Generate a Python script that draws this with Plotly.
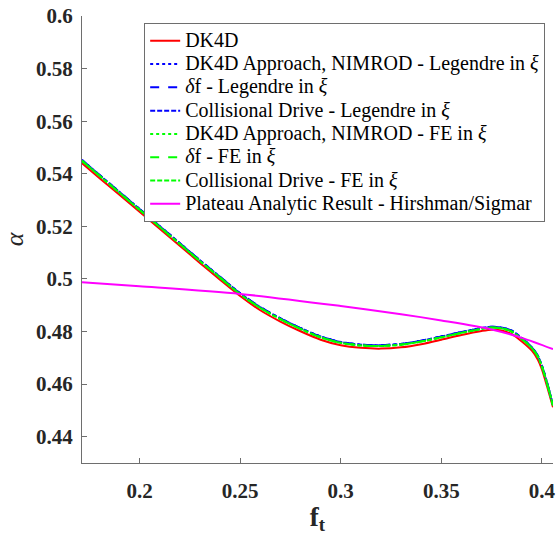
import plotly.graph_objects as go

ft = [0.1714, 0.18, 0.19, 0.20, 0.21, 0.22, 0.23, 0.24, 0.25, 0.26, 0.27, 0.28, 0.29,
      0.30, 0.31, 0.32, 0.33, 0.34, 0.35, 0.36, 0.37, 0.375, 0.38, 0.385, 0.39, 0.395,
      0.398, 0.40, 0.4025, 0.4055]

dk4d = [0.5440, 0.5384, 0.5320, 0.5256, 0.5191, 0.5126, 0.5061, 0.4997, 0.4935, 0.4881,
        0.4838, 0.4801, 0.4769, 0.4748, 0.4738, 0.4735, 0.4740, 0.4752, 0.4769, 0.4787,
        0.4802, 0.4807, 0.4804, 0.4790, 0.4762, 0.4727, 0.4693, 0.4656, 0.4593, 0.4512]

legendre = [0.5452, 0.5396, 0.5331, 0.5266, 0.5201, 0.5136, 0.5071, 0.5008, 0.4945, 0.4893,
            0.4850, 0.4813, 0.4781, 0.4760, 0.4750, 0.4748, 0.4753, 0.4765, 0.4781, 0.4798,
            0.4813, 0.4818, 0.4815, 0.4803, 0.4775, 0.4740, 0.4707, 0.4670, 0.4607, 0.4521]

fe = [0.5449, 0.5393, 0.5328, 0.5263, 0.5198, 0.5133, 0.5068, 0.5005, 0.4942, 0.4890,
      0.4847, 0.4810, 0.4778, 0.4757, 0.4747, 0.4745, 0.4750, 0.4762, 0.4778, 0.4795,
      0.4810, 0.4815, 0.4812, 0.4800, 0.4772, 0.4737, 0.4704, 0.4667, 0.4604, 0.4518]

ft_plateau = [0.1714, 0.20, 0.25, 0.30, 0.33, 0.35, 0.375, 0.39, 0.4055]
plateau = [0.4987, 0.4972, 0.4943, 0.4897, 0.4866, 0.4842, 0.4808, 0.4776, 0.4733]

x_ticks = [0.2, 0.25, 0.3, 0.35, 0.4]
x_tick_labels = ["0.2", "0.25", "0.3", "0.35", "0.4"]
y_ticks = [0.44, 0.46, 0.48, 0.5, 0.52, 0.54, 0.56, 0.58, 0.6]
y_tick_labels = ["0.44", "0.46", "0.48", "0.5", "0.52", "0.54", "0.56", "0.58", "0.6"]

names = [
    "DK4D",
    "DK4D Approach, NIMROD - Legendre in <i>ξ</i>",
    "<i>δ</i>f - Legendre in <i>ξ</i>",
    "Collisional Drive - Legendre in <i>ξ</i>",
    "DK4D Approach, NIMROD - FE in <i>ξ</i>",
    "<i>δ</i>f - FE in <i>ξ</i>",
    "Collisional Drive - FE in <i>ξ</i>",
    "Plateau Analytic Result - Hirshman/Sigmar",
]

SERIF = "Liberation Serif"


def big(s):
    return '<span style="font-size:20px">' + s + "</span>"


def bold(s):
    return "<b>" + s + "</b>"


fig = go.Figure()
series = [
    (ft, dk4d, names[0], "#ff0000", "solid"),
    (ft, legendre, names[1], "#0000ff", "dot"),
    (ft, legendre, names[2], "#0000ff", "dash"),
    (ft, legendre, names[3], "#0000ff", "5px,2px"),
    (ft, fe, names[4], "#00ff00", "dot"),
    (ft, fe, names[5], "#00ff00", "dash"),
    (ft, fe, names[6], "#00ff00", "5px,2px"),
    (ft_plateau, plateau, names[7], "#ff00ff", "solid"),
]
for x, y, n, c, d in series:
    fig.add_trace(go.Scatter(x=x, y=y, name=big(n), mode="lines",
                             line=dict(color=c, width=2, dash=d, shape="spline", smoothing=0.8)))

tickfont = dict(family=SERIF, size=21, color="#262626")

fig.update_layout(
    template=None,
    width=558, height=537,
    margin=dict(l=82, r=5, t=16, b=74),
    paper_bgcolor="white", plot_bgcolor="white",
    font=dict(family=SERIF, size=18, color="#262626"),
    xaxis=dict(range=[0.1714, 0.4055], tickmode="array", tickvals=x_ticks,
               ticktext=[bold(t) for t in x_tick_labels], ticklabelstandoff=9,
               showline=True, linecolor="#6e6e6e", linewidth=1, ticks="inside",
               ticklen=5, tickcolor="#6e6e6e", showgrid=False, zeroline=False,
               tickfont=tickfont,
               title=dict(text="<b>f</b><sub><b>t</b></sub>", standoff=4,
                          font=dict(family=SERIF, size=27, color="#262626"))),
    yaxis=dict(range=[0.43, 0.6], tickmode="array", tickvals=y_ticks,
               ticktext=[bold(t) for t in y_tick_labels], ticklabelstandoff=4,
               showline=True, linecolor="#6e6e6e", linewidth=1, ticks="inside",
               ticklen=5, tickcolor="#6e6e6e", showgrid=False, zeroline=False,
               tickfont=tickfont,
               title=dict(text="<i>α</i>", standoff=6,
                          font=dict(family=SERIF, size=26, color="#262626"))),
    legend=dict(x=0.132, y=0.984, xanchor="left", yanchor="top",
                bgcolor="white", bordercolor="#6e6e6e", borderwidth=1,
                font=dict(family=SERIF, size=15.6, color="#000000"),
                itemwidth=30, tracegroupgap=0),
)

fig.write_html("out.html")
